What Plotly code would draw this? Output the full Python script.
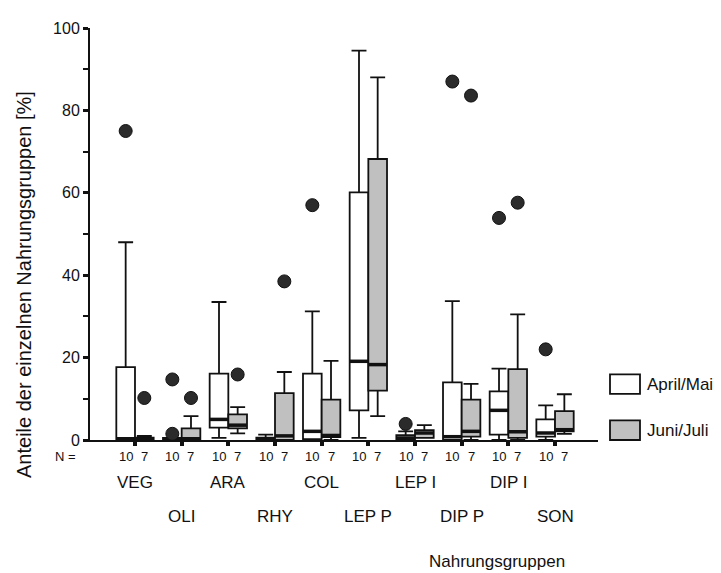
import plotly.graph_objects as go

groups = ["VEG", "OLI", "ARA", "RHY", "COL", "LEP P", "LEP I", "DIP P", "DIP I", "SON"]
n_april = [10] * 10
n_juni = [7] * 10

# April/Mai (white)
a_lf = [0, 0, 0.5, 0, 0, 0.5, 0, 0, 0, 0]
a_q1 = [0, 0, 3.0, 0, 0.2, 7.2, 0, 0, 1.3, 0.8]
a_med = [0.3, 0.2, 5.0, 0.2, 2.1, 19.1, 0.5, 0.8, 7.2, 1.7]
a_q3 = [17.7, 0.5, 16.1, 0.6, 16.1, 60.1, 1.2, 14.0, 11.8, 5.0]
a_uf = [48.0, 0.5, 33.5, 1.3, 31.2, 94.5, 2.1, 33.7, 17.3, 8.4]
a_out_grp = [0, 1, 1, 4, 6, 7, 8, 9]
a_out_val = [75.0, 14.7, 1.5, 57.0, 3.9, 87.0, 53.9, 22.0]

# Juni/Juli (grey)
j_lf = [0, 0, 1.6, 0, 0, 5.8, 0.5, 0, 0, 1.5]
j_q1 = [0, 0, 2.8, 0, 0.7, 12.0, 0.5, 0.8, 0.5, 2.1]
j_med = [0.2, 0.3, 3.6, 1.0, 1.1, 18.3, 1.7, 2.1, 2.0, 2.5]
j_q3 = [0.6, 2.8, 6.2, 11.4, 9.8, 68.2, 2.4, 9.8, 17.2, 7.0]
j_uf = [1.0, 5.8, 8.0, 16.5, 19.2, 88.0, 3.6, 13.6, 30.5, 11.1]
j_out_grp = [0, 1, 2, 3, 7, 8]
j_out_val = [10.2, 10.2, 15.9, 38.5, 83.6, 57.6]

OFF = 0.2
BW = 0.4
xa = [i - OFF for i in range(len(groups))]
xj = [i + OFF for i in range(len(groups))]

FONT = "Arial, Liberation Sans, sans-serif"
LINE = "#111111"
X0, X1 = -0.964, 9.921
PW, PH = 508, 420   # plot area size in px (page x 90..598, y 20..440)

def px_x(page_x):
    return (page_x - 90) / PW

def px_y(page_y):
    return (440 - page_y) / PH

fig = go.Figure()

for xs, lf, q1, med, q3, uf, fill, name in [
    (xa, a_lf, a_q1, a_med, a_q3, a_uf, "white", "April/Mai"),
    (xj, j_lf, j_q1, j_med, j_q3, j_uf, "#c0c0c0", "Juni/Juli"),
]:
    fig.add_trace(go.Box(
        x=xs, q1=q1, median=med, q3=q3, lowerfence=lf, upperfence=uf,
        width=BW, whiskerwidth=0.8, fillcolor=fill, boxpoints=False,
        line=dict(color=LINE, width=1.8), name=name, showlegend=False,
        hoverinfo="skip",
    ))
    mx, my = [], []
    for x, m in zip(xs, med):
        mx += [x - BW / 2, x + BW / 2, None]
        my += [m, m, None]
    fig.add_trace(go.Scatter(x=mx, y=my, mode="lines",
                             line=dict(color=LINE, width=3.5),
                             showlegend=False, hoverinfo="skip"))

for xs, grp, vals in [(xa, a_out_grp, a_out_val), (xj, j_out_grp, j_out_val)]:
    fig.add_trace(go.Scatter(
        x=[xs[g] for g in grp], y=vals, mode="markers",
        marker=dict(size=13, color="#2b2b2b", line=dict(color="#111", width=1)),
        showlegend=False, hoverinfo="skip", cliponaxis=False))

ann = []
ann.append(dict(x=px_x(78), y=0, xref="paper", yref="paper", text="N =",
                showarrow=False, xanchor="right", yanchor="middle", yshift=-16,
                font=dict(family=FONT, size=13, color="#111")))
for i in range(len(groups)):
    ann.append(dict(x=xa[i], y=0, xref="x", yref="paper", text=str(n_april[i]),
                    showarrow=False, xanchor="center", yanchor="middle", yshift=-16,
                    font=dict(family=FONT, size=13, color="#111")))
    ann.append(dict(x=xj[i], y=0, xref="x", yref="paper", text=str(n_juni[i]),
                    showarrow=False, xanchor="center", yanchor="middle", yshift=-16,
                    font=dict(family=FONT, size=13, color="#111")))
    ann.append(dict(x=i, y=0, xref="x", yref="paper", text=groups[i],
                    showarrow=False, xanchor="center", yanchor="middle",
                    yshift=-42 if i % 2 == 0 else -76,
                    font=dict(family=FONT, size=17, color="#111")))

# axis titles
ann.append(dict(x=px_x(497), y=0, xref="paper", yref="paper", text="Nahrungsgruppen",
                showarrow=False, xanchor="center", yanchor="middle", yshift=-121,
                font=dict(family=FONT, size=17, color="#111")))
ann.append(dict(x=px_x(24), y=px_y(282), xref="paper", yref="paper",
                text="Anteile der einzelnen Nahrungsgruppen [%]", textangle=-90,
                showarrow=False, xanchor="center", yanchor="middle",
                font=dict(family=FONT, size=20, color="#111")))

# legend (manual)
shapes = []
for (top, bot, fill, label) in [(373, 393, "white", "April/Mai"),
                                (420, 440, "#c0c0c0", "Juni/Juli")]:
    shapes.append(dict(type="rect", xref="paper", yref="paper",
                       x0=px_x(610), x1=px_x(640), y0=px_y(bot), y1=px_y(top),
                       fillcolor=fill, line=dict(color=LINE, width=1.8)))
    ann.append(dict(x=px_x(645), y=px_y((top + bot) / 2), xref="paper", yref="paper",
                    text=label, showarrow=False, xanchor="left", yanchor="middle",
                    font=dict(family=FONT, size=17, color="#111")))

# the page has an 8px body margin, so the figure is 8px smaller and offset
fig.update_layout(
    width=713, height=565,
    margin=dict(l=82, r=123, t=12, b=133),
    paper_bgcolor="white", plot_bgcolor="white",
    showlegend=False,
    annotations=ann, shapes=shapes,
    xaxis=dict(range=[X0, X1], showgrid=False, zeroline=False,
               showline=True, linecolor=LINE, linewidth=2,
               tickvals=list(range(len(groups))), ticks="outside",
               ticklen=4, tickwidth=4, tickcolor=LINE, showticklabels=False),
    yaxis=dict(range=[0, 100], showgrid=False, zeroline=False,
               showline=True, linecolor=LINE, linewidth=2,
               tickvals=[0, 20, 40, 60, 80, 100], ticks="outside",
               ticklen=5, tickwidth=3, tickcolor=LINE,
               minor=dict(tickvals=[10, 30, 50, 70, 90], ticks="outside",
                          ticklen=5, tickwidth=1.5, tickcolor=LINE),
               tickfont=dict(family=FONT, size=16, color="#111")),
)

fig.write_html("out.html")
